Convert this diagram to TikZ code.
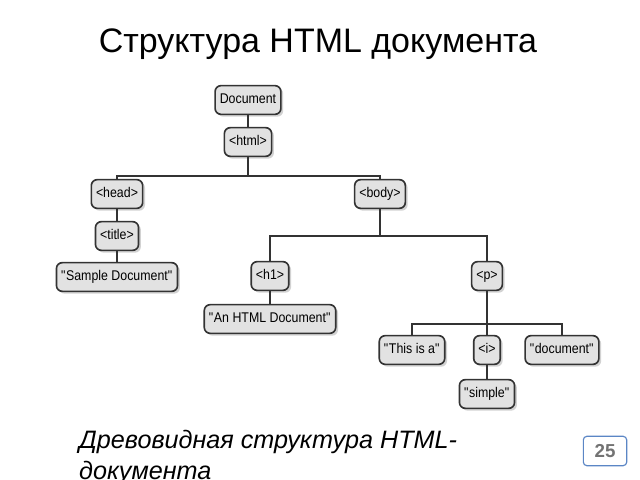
\documentclass[tikz,border=0pt]{standalone}
\usepackage{fontspec}
\setmainfont{Liberation Sans}
\newfontfamily\tagfont[FakeStretch=0.88]{Liberation Sans}
\usetikzlibrary{shadows}
\definecolor{boxfill}{HTML}{E2E2E2}
\definecolor{boxline}{HTML}{333333}
\definecolor{numblue}{HTML}{5B86C5}
\newcommand{\qt}[1]{\textquotedbl#1\textquotedbl}
\tikzset{
	tag/.style={draw=boxline,line width=1.4pt,fill=boxfill,rounded corners=5pt,
		minimum height=0.86cm,inner xsep=4pt,text height=1.7ex,text depth=0.5ex,
		font=\tagfont\fontsize{12}{14}\selectfont,
		drop shadow={shadow xshift=2pt,shadow yshift=-2pt,fill=gray!70}},
	wire/.style={draw=boxline,line width=1.3pt}
}
\begin{document}
\begin{tikzpicture}[x=0.03cm,y=-0.03cm]
			
			\useasboundingbox (0,0) rectangle (640,480);
			\node[anchor=base,font=\fontsize{29}{34}\selectfont] (titel) at (318,53) {Структура HTML документа};
			% tree
			\node[tag] (doc) at (248,100) {Document};
			\node[tag] (html) at (248,142) {<html>};
			\node[tag] (head) at (117,194) {<head>};
			\node[tag] (title) at (117,236) {<title>};
			\node[tag] (sample) at (117,277) {\qt{Sample Document}};
			\node[tag] (body) at (380,194) {<body>};
			\node[tag] (hone) at (270,276) {<h1>};
			\node[tag] (anhtml) at (270,319) {\qt{An HTML Document}};
			\node[tag] (p) at (487,276) {<p>};
			\node[tag] (thisis) at (412,350) {\qt{This is a}};
			\node[tag] (i) at (487,350) {<i>};
			\node[tag] (document) at (562,350) {\qt{document}};
			\node[tag] (simple) at (487,394) {\qt{simple}};
			\coordinate (jhtml) at (248,176);
			\coordinate (jbody) at (380,236);
			\coordinate (jp) at (487,324);
			\draw[wire] (doc.south)--(html.north);
			\draw[wire] (html.south)--(jhtml);
			\draw[wire] (head.north)|-(jhtml)-|(body.north);
			\draw[wire] (head.south)--(title.north);
			\draw[wire] (title.south)--(sample.north);
			\draw[wire] (body.south)--(jbody);
			\draw[wire] (hone.north)|-(jbody)-|(p.north);
			\draw[wire] (hone.south)--(anhtml.north);
			\draw[wire] (p.south)--(jp);
			\draw[wire] (thisis.north)|-(jp)-|(document.north);
			\draw[wire] (jp)--(i.north);
			\draw[wire] (i.south)--(simple.north);
			% caption
			\node[anchor=base west,align=left,font=\fontsize{21.5}{26.4}\selectfont\itshape] (caption) at (75,479) {Древовидная структура HTML-\\документа};
			\node[draw=numblue,line width=1pt,rounded corners=3pt,minimum width=1.3cm,minimum height=0.88cm,
				text=gray!90!black,font=\fontsize{16}{18}\selectfont\bfseries] (num) at (605,451) {25};
			
		\end{tikzpicture}
\end{document}
